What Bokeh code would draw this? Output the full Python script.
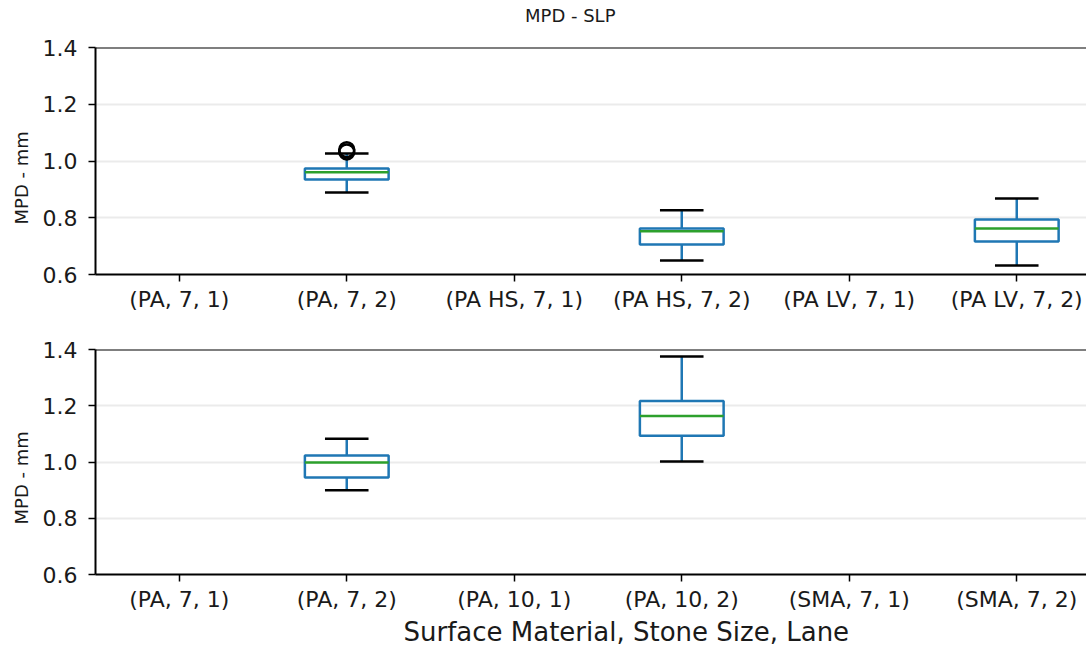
from bokeh.plotting import figure
from bokeh.layouts import column
from bokeh.models import Range1d, FixedTicker, Span, ColumnDataSource, Title, Div
from bokeh.transform import dodge
from bokeh.embed import file_html
from bokeh.resources import INLINE

# ---- data ----
top_labels = ["(PA, 7, 1)", "(PA, 7, 2)", "(PA HS, 7, 1)", "(PA HS, 7, 2)", "(PA LV, 7, 1)", "(PA LV, 7, 2)"]
top_pos = [2, 4, 6]
top_lo = [0.889, 0.649, 0.632]
top_q1 = [0.935, 0.706, 0.716]
top_med = [0.960, 0.752, 0.762]
top_q3 = [0.974, 0.762, 0.794]
top_hi = [1.026, 0.826, 0.868]
top_out_x = [2, 2]
top_out_y = [1.032, 1.040]

bot_labels = ["(PA, 7, 1)", "(PA, 7, 2)", "(PA, 10, 1)", "(PA, 10, 2)", "(SMA, 7, 1)", "(SMA, 7, 2)"]
bot_pos = [2, 4]
bot_lo = [0.900, 1.002]
bot_q1 = [0.945, 1.093]
bot_med = [0.998, 1.164]
bot_q3 = [1.023, 1.217]
bot_hi = [1.083, 1.375]
bot_out_x = []
bot_out_y = []

yticks = [0.6, 0.8, 1.0, 1.2, 1.4]

FONT = "DejaVu Sans"
BLUE = "#1f77b4"
GREEN = "#2ca02c"
TXT = "#1a1a1a"
TICK_FS = "22px"
LW = 2.5
W = 1086
FRAME_L = 95
SPACING = 167.5
x_end = 0.5 + (W - FRAME_L) / SPACING


def make(labels, pos, lo, q1, med, q3, hi, ox, oy, height, btop, bbottom):
    p = figure(width=W, height=height, output_backend="svg", toolbar_location=None,
               x_range=Range1d(0.5, x_end), y_range=Range1d(0.6, 1.4),
               min_border_left=FRAME_L, min_border_right=0,
               min_border_top=btop, min_border_bottom=bbottom)
    p.outline_line_color = None
    p.background_fill_color = "white"
    p.border_fill_color = "white"
    p.xgrid.visible = False
    p.ygrid.grid_line_color = "#ebebeb"
    p.ygrid.grid_line_width = 2
    p.add_layout(Span(location=1.4, dimension="width", line_color="black", line_width=2))

    src = ColumnDataSource(dict(x=pos, lo=lo, q1=q1, med=med, q3=q3, hi=hi))
    p.segment(x0="x", y0="q3", x1="x", y1="hi", source=src, line_color=BLUE, line_width=LW)
    p.segment(x0="x", y0="lo", x1="x", y1="q1", source=src, line_color=BLUE, line_width=LW)
    p.vbar(x="x", top="q3", bottom="q1", width=0.5, source=src, fill_color=None,
           line_color=BLUE, line_width=LW)
    p.segment(x0=dodge("x", -0.25), y0="med", x1=dodge("x", 0.25), y1="med", source=src,
              line_color=GREEN, line_width=LW)
    p.segment(x0=dodge("x", -0.13), y0="hi", x1=dodge("x", 0.13), y1="hi", source=src,
              line_color="black", line_width=LW)
    p.segment(x0=dodge("x", -0.13), y0="lo", x1=dodge("x", 0.13), y1="lo", source=src,
              line_color="black", line_width=LW)
    if ox:
        p.scatter(ox, oy, size=15, fill_color=None, line_color="black", line_width=LW)

    ticks = list(range(1, len(labels) + 1))
    p.xaxis.ticker = FixedTicker(ticks=ticks)
    p.xaxis.major_label_overrides = {t: l for t, l in zip(ticks, labels)}
    p.yaxis.ticker = FixedTicker(ticks=yticks)
    p.yaxis.major_label_overrides = {v: f"{v:.1f}" for v in yticks}
    for ax in (p.xaxis[0], p.yaxis[0]):
        ax.axis_line_color = "black"
        ax.axis_line_width = 2
        ax.major_tick_line_color = "black"
        ax.major_tick_line_width = 1.5
        ax.major_tick_out = 7
        ax.major_tick_in = 0
        ax.minor_tick_line_color = None
        ax.major_label_text_font = FONT
        ax.major_label_text_font_size = TICK_FS
        ax.major_label_text_color = TXT
    p.yaxis.major_label_standoff = 11
    p.xaxis.major_label_standoff = 5
    yl = Title(text="MPD - mm", align="left", offset=50, text_font=FONT, text_font_size="18px",
               text_font_style="normal", text_color=TXT, standoff=15)
    p.add_layout(yl, "left")
    return p


title_div = Div(
    text='<div style="position:absolute;left:525px;top:3px;white-space:nowrap;'
         'font-family:\'DejaVu Sans\';font-size:18px;color:#1a1a1a;">MPD - SLP</div>',
    width=W, height=26, styles={"position": "relative", "margin": "0", "padding": "0"})

p1 = make(top_labels, top_pos, top_lo, top_q1, top_med, top_q3, top_hi, top_out_x, top_out_y,
          296, 21, 48)

p2 = make(bot_labels, bot_pos, bot_lo, bot_q1, bot_med, bot_q3, bot_hi, bot_out_x, bot_out_y,
          324, 27, 70)
xl = Title(text="Surface Material, Stone Size, Lane", align="left", offset=403 - FRAME_L,
           text_font=FONT, text_font_size="26px", text_font_style="normal", text_color=TXT,
           standoff=0)
p2.add_layout(xl, "below")

layout = column(title_div, p1, p2, spacing=0)
open("out.html", "w").write(file_html(layout, INLINE))
